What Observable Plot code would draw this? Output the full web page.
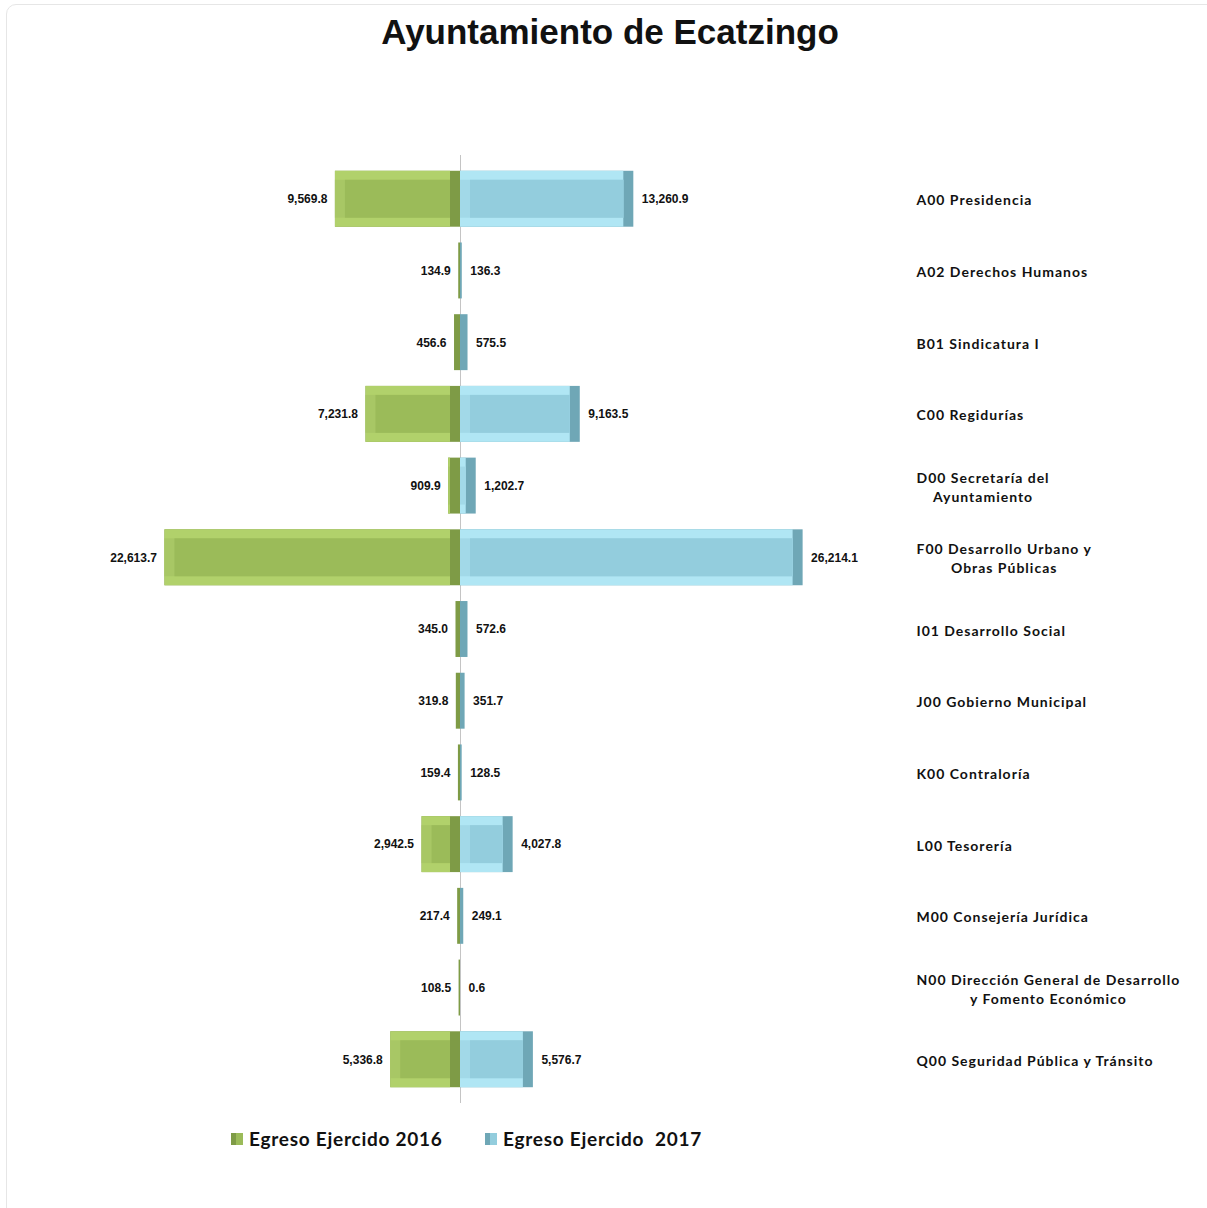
<!DOCTYPE html>
<html>
<head>
<meta charset="utf-8">
<script src="https://cdn.jsdelivr.net/npm/d3@7"></script>
<script src="https://cdn.jsdelivr.net/npm/@observablehq/plot@0.6"></script>
<style>
  html, body { margin: 0; padding: 0; background: #fff; overflow: hidden; }
  #page { position: relative; width: 1207px; height: 1208px; overflow: hidden; }
  #frame { position: absolute; left: 6px; top: 4px; width: 1230px; height: 1230px; border: 1px solid #e6e6e6; border-radius: 10px; box-sizing: border-box; }
  #title { position: absolute; left: 0; top: 12px; width: 1220px; text-align: center; font: bold 35px "Liberation Sans", Arial, sans-serif; color: #111; }
  #chart { position: absolute; left: 0; top: 0; }
  #legend { position: absolute; top: 1127px; left: 0; width: 1207px; font: bold 19px Lato, "Open Sans", sans-serif; letter-spacing: 0.75px; color: #111; white-space: pre; }
  .item { position: absolute; display: flex; align-items: center; }
  .sw { width: 12px; height: 12px; margin-right: 6px; }
</style>
</head>
<body>
<div id="page">
  <div id="frame"></div>
  <div id="chart"></div>
  <div id="title">Ayuntamiento de Ecatzingo</div>
  <div id="legend"></div>
</div>
<script>
const categories = [
  "A00 Presidencia",
  "A02 Derechos Humanos",
  "B01 Sindicatura I",
  "C00 Regidurías",
  "D00 Secretaría del\nAyuntamiento",
  "F00 Desarrollo Urbano y\nObras Públicas",
  "I01 Desarrollo Social",
  "J00 Gobierno Municipal",
  "K00 Contraloría",
  "L00 Tesorería",
  "M00 Consejería Jurídica",
  "N00 Dirección General de Desarrollo\ny Fomento Económico",
  "Q00 Seguridad Pública y Tránsito"
];
const egreso2016 = [9569.8, 134.9, 456.6, 7231.8, 909.9, 22613.7, 345.0, 319.8, 159.4, 2942.5, 217.4, 108.5, 5336.8];
const egreso2017 = [13260.9, 136.3, 575.5, 9163.5, 1202.7, 26214.1, 572.6, 351.7, 128.5, 4027.8, 249.1, 0.6, 5576.7];
const seriesNames = ["Egreso Ejercido 2016", "Egreso Ejercido  2017"];
const colors = {
  g: {main: "#9bbb59", top: "#b1d16b", side: "#a8c765", dark: "#7e9b46"},
  b: {main: "#93cddd", top: "#b0e6f4", side: "#a2d9e8", dark: "#6fa7b6"}
};

const rows = categories.map((c, i) => ({cat: c, v16: egreso2016[i], v17: egreso2017[i]}));
const fmt = d3.format(",.1f");
const bevX = 10, bevY = 9;

function bevelBars(x1, x2, c) {
  const base = {y: "cat", x1, x2};
  return [
    Plot.barX(rows, {...base, fill: c.dark}),
    Plot.barX(rows, {...base, fill: c.top, insetRight: bevX}),
    Plot.barX(rows, {...base, fill: c.side, insetRight: bevX, insetTop: bevY, insetBottom: bevY}),
    Plot.barX(rows, {...base, fill: c.main, insetLeft: bevX, insetRight: bevX, insetTop: bevY, insetBottom: bevY})
  ];
}

const chart = Plot.plot({
  width: 1207,
  height: 1208,
  marginLeft: 0,
  marginRight: 291,
  marginTop: 155,
  marginBottom: 105,
  x: {domain: [-35195, 34889], axis: null},
  y: {domain: categories, padding: 0.22, round: false, axis: null},
  style: {background: "transparent"},
  marks: [
    Plot.ruleX([0], {stroke: "#c4c4c4", strokeWidth: 1}),
    ...bevelBars(d => -d.v16, 0, colors.g),
    ...bevelBars(0, d => d.v17, colors.b),
    Plot.text(rows, {x: d => -d.v16, y: "cat", text: d => fmt(d.v16), textAnchor: "end", dx: -8,
      fontFamily: "Liberation Sans, Arial, sans-serif", fontWeight: "bold", fontSize: 12, fill: "#111"}),
    Plot.text(rows, {x: d => d.v17, y: "cat", text: d => fmt(d.v17), textAnchor: "start", dx: 8,
      fontFamily: "Liberation Sans, Arial, sans-serif", fontWeight: "bold", fontSize: 12, fill: "#111"}),
    Plot.text(rows, {y: "cat", text: "cat", frameAnchor: "right", textAnchor: "start", lineAnchor: "middle",
      lineHeight: 1.36, fontFamily: "Lato, Open Sans, sans-serif", fontWeight: "bold", fontSize: 14, fill: "#111"})
  ]
});
document.getElementById("chart").appendChild(chart);

// category labels: slight letter spacing, multi-line ones centred within their block
chart.querySelectorAll("text").forEach(t => {
  const spans = t.querySelectorAll("tspan");
  if (t.getAttribute("font-family") && t.getAttribute("font-family").startsWith("Lato") || (t.parentNode.getAttribute("font-family") || "").startsWith("Lato")) {
    t.setAttribute("letter-spacing", "1px");
  }
  if (spans.length > 1) {
    let w = 0;
    spans.forEach(s => { w = Math.max(w, s.getComputedTextLength()); });
    t.setAttribute("text-anchor", "middle");
    spans.forEach(s => s.setAttribute("x", w / 2));
  }
});

const legend = document.getElementById("legend");
const legendItems = [
  {name: seriesNames[0], c: colors.g, left: 231},
  {name: seriesNames[1], c: colors.b, left: 485}
];
legendItems.forEach(it => {
  const d = document.createElement("div");
  d.className = "item";
  d.style.left = it.left + "px";
  const sw = document.createElement("div");
  sw.className = "sw";
  sw.style.background = `linear-gradient(90deg, ${it.c.dark} 0 45%, ${it.c.main} 45%)`;
  const tx = document.createElement("span");
  tx.textContent = it.name;
  d.appendChild(sw);
  d.appendChild(tx);
  legend.appendChild(d);
});
</script>
</body>
</html>
